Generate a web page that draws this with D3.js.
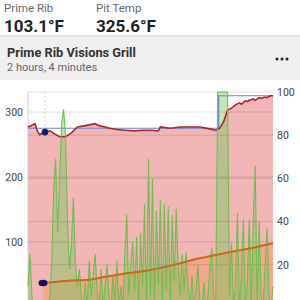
<!DOCTYPE html>
<html><head><meta charset="utf-8">
<script src="https://cdn.jsdelivr.net/npm/d3@7"></script>
<style>
html,body{margin:0;padding:0;background:#fff;}
svg{display:block;font-family:Roboto,"Noto Sans",sans-serif;}
</style></head>
<body><svg id="c" width="300" height="300"></svg>
<script>
// ---- data ----
const probeLabels = ["Prime Rib", "Pit Temp"];
const probeValues = ["103.1°F", "325.6°F"];
const cookTitle = "Prime Rib Visions Grill";
const cookDuration = "2 hours, 4 minutes";
const leftTicks = [100, 200, 300];
const rightTicks = [20, 40, 60, 80, 100];

// pit temperature (°F) over minutes
const pitTime = [0,1.5,3.5,5,6,7.5,8.6,11,13.7,16,19,22,25,29,34,36,41.5,45,49,54,58,62,66,67,72,77,82,87,92,95,97,99,101,103,105,107,108,110,111,112,114,115,117,118,120,121,122.5,124];
const pitTemp = [277,279,282,269,265,268,269,271,266,262,262,268,277,279,282,279,275,273,272,271,272,272,271,277,275,277,277,277,274,272,275,285,303,306,311,314,312,317,316,318,320,318,322,321,323,322,325,325];

// target pit temperature
const targetTime = [0, 96.5, 96.5, 124];
const targetTemp = [275, 275, 325, 325];

// food probe temperature (°F)
const foodTime = [7.6,15,25,31,40,50,62,75,87,92,105,115,124];
const foodTemp = [37,39,41,42,47,52,57,66,75,78,86,92,98];

// fan output (%) per minute 0..124
const fanPct = [10,25,5,0,0,0,0,0,0,0,
  0,5,20,55,69,35,60,85,92,80,
  40,18,30,51,20,10,18,5,0,12,
  0,22,5,15,25,8,0,18,0,10,
  20,5,0,15,3,22,0,10,0,25,
  43,5,20,31,8,33,0,35,10,48,
  0,69,5,60,0,45,10,50,0,48,
  8,47,0,43,12,46,20,5,25,8,
  26,10,0,15,0,8,20,3,0,12,
  0,5,18,28,5,0,100,100,100,100,
  100,100,5,30,0,10,44,0,15,41,
  0,12,41,0,41,66,0,40,5,0,
  20,37,5,0,10];

// ---- drawing ----
const svg = d3.select("#c");
const x = d3.scaleLinear().domain([0,124]).range([28,273]);
const yL = d3.scaleLinear().domain([0,300]).range([307,112]);
const yR = d3.scaleLinear().domain([0,100]).range([308,92]);
const bottom = 310;

// header
svg.append("rect").attr("x",0).attr("y",36).attr("width",300).attr("height",44).attr("fill","#efefef");
svg.append("rect").attr("x",0).attr("y",35).attr("width",300).attr("height",1.5).attr("fill","#e4e4e4");
probeLabels.forEach((l,i)=>{
  const px = [4,96][i];
  svg.append("text").attr("x",px).attr("y",12).attr("font-size",11.5).attr("fill","#6a6a6a").text(l);
  svg.append("text").attr("x",px).attr("y",32).attr("font-size",17).attr("font-weight","bold").attr("fill","#222").text(probeValues[i]);
});
svg.append("text").attr("x",7).attr("y",57).attr("font-size",12.8).attr("font-weight","bold").attr("fill","#333").text(cookTitle);
svg.append("text").attr("x",7).attr("y",71).attr("font-size",11).attr("fill","#666").text(cookDuration);
[277,282,287].forEach(cx=>svg.append("circle").attr("cx",cx).attr("cy",59).attr("r",1.5).attr("fill","#222"));

const pitData = pitTime.map((t,i)=>[t,pitTemp[i]]);
const foodData = foodTime.map((t,i)=>[t,foodTemp[i]]);
const fanData = fanPct.map((v,i)=>[i,v]);
const tgtData = targetTime.map((t,i)=>[t,targetTemp[i]]);

// pit fill
svg.append("path").datum(pitData)
  .attr("d", d3.area().x(d=>x(d[0])).y0(bottom).y1(d=>yL(d[1])))
  .attr("fill","#f3b6b6");
// food fill
svg.append("path").datum(foodData)
  .attr("d", d3.area().x(d=>x(d[0])).y0(bottom).y1(d=>yL(d[1])).curve(d3.curveMonotoneX))
  .attr("fill","rgba(250,140,70,0.35)");
// fan fill
svg.append("path").datum(fanData)
  .attr("d", d3.area().x(d=>x(d[0])).y0(bottom).y1(d=>yR(d[1])))
  .attr("fill","rgba(120,200,90,0.45)");

// gridlines
const grid = svg.append("g");
leftTicks.forEach(v=>grid.append("line").attr("x1",28).attr("x2",273).attr("y1",yL(v)).attr("y2",yL(v)).attr("stroke","rgba(0,0,0,0.13)").attr("stroke-width",1));
rightTicks.forEach(v=>grid.append("line").attr("x1",28).attr("x2",273).attr("y1",yR(v)).attr("y2",yR(v)).attr("stroke","rgba(0,0,0,0.13)").attr("stroke-width",1));
svg.append("line").attr("x1",28).attr("x2",28).attr("y1",yR(100)).attr("y2",bottom).attr("stroke","#cfcfcf");

// dashed marker
svg.append("line").attr("x1",x(8.6)).attr("x2",x(8.6)).attr("y1",yR(100)).attr("y2",yL(269)).attr("stroke","#f2c8a8").attr("stroke-dasharray","2,2");

// target line
svg.append("path").datum(tgtData)
  .attr("d", d3.line().x(d=>x(d[0])).y(d=>yL(d[1])))
  .attr("fill","none").attr("stroke","#6b87c8").attr("stroke-width",1.2);

// pit line
svg.append("path").datum(pitData)
  .attr("d", d3.line().x(d=>x(d[0])).y(d=>yL(d[1])))
  .attr("fill","none").attr("stroke","#a8262e").attr("stroke-width",1.6);

// fan line
svg.append("path").datum(fanData)
  .attr("d", d3.line().x(d=>x(d[0])).y(d=>yR(d[1])))
  .attr("fill","none").attr("stroke","#72bd52").attr("stroke-width",1.1);

// food line
svg.append("path").datum(foodData)
  .attr("d", d3.line().x(d=>x(d[0])).y(d=>yL(d[1])).curve(d3.curveMonotoneX))
  .attr("fill","none").attr("stroke","#c96a14").attr("stroke-width",2);

// dots
svg.append("circle").attr("cx",x(8.6)).attr("cy",yL(269)).attr("r",3.3).attr("fill","#1b1b6b");
svg.append("ellipse").attr("cx",x(foodTime[0])).attr("cy",yL(foodTemp[0])).attr("rx",4.5).attr("ry",3.3).attr("fill","#10105e");

// axes
const aL = svg.append("g").attr("transform","translate(26,0)")
  .call(d3.axisLeft(yL).tickValues(leftTicks).tickSize(0).tickPadding(3));
const aR = svg.append("g").attr("transform","translate(273,0)")
  .call(d3.axisRight(yR).tickValues(rightTicks).tickSize(0).tickPadding(4));
[aL,aR].forEach(a=>{
  a.select(".domain").remove();
  a.selectAll("text").attr("font-size",10.5).attr("fill","#444").attr("font-family","Roboto,sans-serif");
});
</script></body></html>
